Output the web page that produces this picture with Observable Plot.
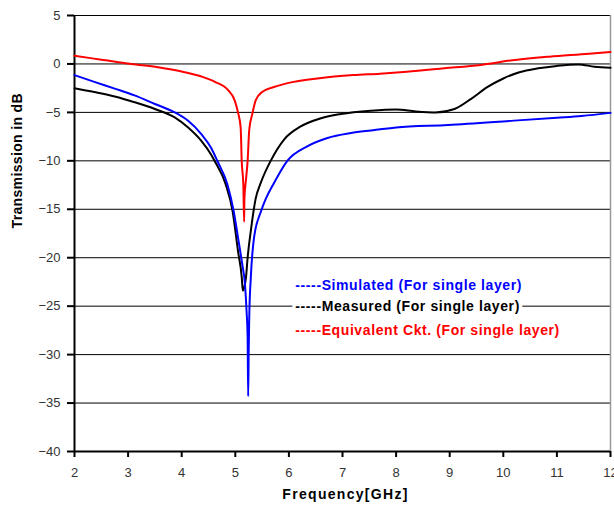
<!DOCTYPE html>
<html>
<head>
<meta charset="utf-8">
<script src="https://cdn.jsdelivr.net/npm/d3@7"></script>
<script src="https://cdn.jsdelivr.net/npm/@observablehq/plot@0.6"></script>
<style>
  html, body { margin: 0; padding: 0; background: #fff; }
  #chart svg { display: block; }
</style>
</head>
<body>
<div id="chart"></div>
<script>
// ---- Data ----
const xTicks = [2, 3, 4, 5, 6, 7, 8, 9, 10, 11, 12];
const yTicks = [5, 0, -5, -10, -15, -20, -25, -30, -35, -40];

const freqSim = [2.0, 2.37, 2.75, 3.12, 3.5, 3.87, 4.12, 4.37, 4.55, 4.67, 4.85, 4.97, 5.05, 5.13, 5.18, 5.21, 5.23, 5.24, 5.25, 5.26, 5.29, 5.35, 5.48, 5.57, 5.73, 5.97, 6.35, 6.72, 7.16, 7.53, 8.0, 8.97, 10.2, 11.0, 11.46, 12.0];
const dbSim   = [-1.15, -1.85, -2.55, -3.25, -4.13, -5.0, -5.87, -7.27, -8.67, -10.07, -12.4, -15.2, -17.9, -20.7, -22.7, -25.5, -28.2, -34.3, -29.6, -26.2, -22.0, -17.9, -15.2, -13.9, -12.2, -10.0, -8.48, -7.64, -7.13, -6.86, -6.55, -6.3, -5.85, -5.55, -5.37, -5.05];

const freqMeas = [2.0, 2.37, 2.75, 3.12, 3.5, 3.87, 4.12, 4.37, 4.55, 4.62, 4.82, 4.95, 5.05, 5.12, 5.14, 5.17, 5.2, 5.23, 5.29, 5.38, 5.48, 5.66, 5.91, 6.22, 6.6, 6.97, 7.53, 8.0, 8.37, 8.74, 9.09, 9.4, 9.7, 10.0, 10.3, 10.65, 11.0, 11.4, 11.7, 12.0];
const dbMeas   = [-2.5, -2.9, -3.36, -3.95, -4.65, -5.52, -6.57, -7.97, -9.37, -10.07, -12.4, -15.2, -19.3, -22.0, -23.4, -23.0, -22.0, -20.0, -17.2, -13.9, -12.2, -10.0, -7.8, -6.45, -5.6, -5.17, -4.83, -4.7, -4.9, -5.0, -4.65, -3.6, -2.4, -1.5, -0.85, -0.45, -0.2, -0.05, -0.28, -0.4];

const freqEq = [2.0, 2.3, 2.62, 3.06, 3.56, 4.0, 4.37, 4.62, 4.87, 4.99, 5.05, 5.1, 5.12, 5.15, 5.165, 5.17, 5.2, 5.23, 5.26, 5.32, 5.38, 5.5, 5.72, 6.09, 6.53, 7.2, 7.7, 8.2, 8.9, 9.58, 10.13, 10.86, 11.6, 12.0];
const dbEq   = [0.85, 0.6, 0.35, 0.0, -0.35, -0.78, -1.3, -1.85, -2.73, -3.78, -5.0, -6.57, -10.07, -12.5, -16.3, -13.9, -11.9, -10.0, -6.8, -5.1, -3.75, -2.9, -2.38, -1.85, -1.5, -1.15, -1.0, -0.8, -0.45, -0.1, 0.35, 0.75, 1.05, 1.24];

const legendLabels = ["-----Simulated (For single layer)", "-----Measured (For single layer)", "-----Equivalent Ckt. (For single layer)"];
const legendColors = ["#0000ff", "#000000", "#ff0000"];
const legendX = [6.12, 6.12, 6.12];
const legendY = [-22.9, -25.0, -27.5];

const xTitle = "Frequency[GHz]";
const yTitle = "Transmission in dB";

// ---- Build tables ----
const rows = (fs, ds) => fs.map((f, i) => ({f, db: ds[i]}));
const sim = rows(freqSim, dbSim);
const meas = rows(freqMeas, dbMeas);
const eq = rows(freqEq, dbEq);
const legend = legendLabels.map((t, i) => ({t, c: legendColors[i], x: legendX[i], y: legendY[i]}));

const tickFont = "'Liberation Sans', Arial, sans-serif";
const boldFont = "'Liberation Sans', Arial, sans-serif";

const chart = Plot.plot({
  width: 614,
  height: 512,
  marginLeft: 74,
  marginRight: 4,
  marginTop: 15,
  marginBottom: 61,
  style: {fontFamily: tickFont, fontSize: "13px", color: "#333", background: "#fff"},
  x: {domain: [2, 12], label: null},
  y: {domain: [-40, 5], label: null},
  marks: [
    Plot.gridY(yTicks, {stroke: "#000", strokeOpacity: 1, strokeWidth: 1}),
    Plot.ruleX([12], {stroke: "#999", strokeWidth: 1.5}),
    Plot.axisX(xTicks, {tickSize: 6, tickPadding: 10, strokeWidth: 2, stroke: "#000", fill: "#333", fontSize: 13, label: null}),
    Plot.axisY(yTicks, {tickSize: 7, tickPadding: 7, strokeWidth: 2, stroke: "#000", fill: "#333", fontSize: 13, label: null}),
    Plot.ruleX([2], {stroke: "#000", strokeWidth: 2}),
    Plot.ruleY([-40], {stroke: "#000", strokeWidth: 2}),
    Plot.line(eq, {x: "f", y: "db", stroke: "#ff0000", strokeWidth: 2, curve: "monotone-x"}),
    Plot.line(meas, {x: "f", y: "db", stroke: "#000000", strokeWidth: 2, curve: "monotone-x"}),
    Plot.line(sim, {x: "f", y: "db", stroke: "#0000ff", strokeWidth: 2, curve: "monotone-x"}),
    Plot.text(legend, {x: "x", y: "y", text: "t", fill: "c", textAnchor: "start", fontWeight: "bold", fontFamily: boldFont, fontSize: 14, stroke: "#fff", strokeWidth: 7, paintOrder: "stroke"}),
    Plot.text([xTitle], {text: d => d, frameAnchor: "bottom", dy: 47, dx: 3, fontWeight: "bold", fontFamily: boldFont, fontSize: 14, fill: "#000"}),
    Plot.text([yTitle], {text: d => d, frameAnchor: "left", dx: -57, dy: -5, rotate: -90, fontWeight: "bold", fontFamily: boldFont, fontSize: 14, fill: "#000"})
  ]
});
// letter spacing to mimic the wider original typeface
const textGroups = chart.querySelectorAll('g[aria-label="text"]');
const spacing = ["0.6px", "1.3px", "0.35px"];
textGroups.forEach((g, i) => { if (spacing[i]) g.style.letterSpacing = spacing[i]; });
document.getElementById("chart").appendChild(chart);
</script>
</body>
</html>
